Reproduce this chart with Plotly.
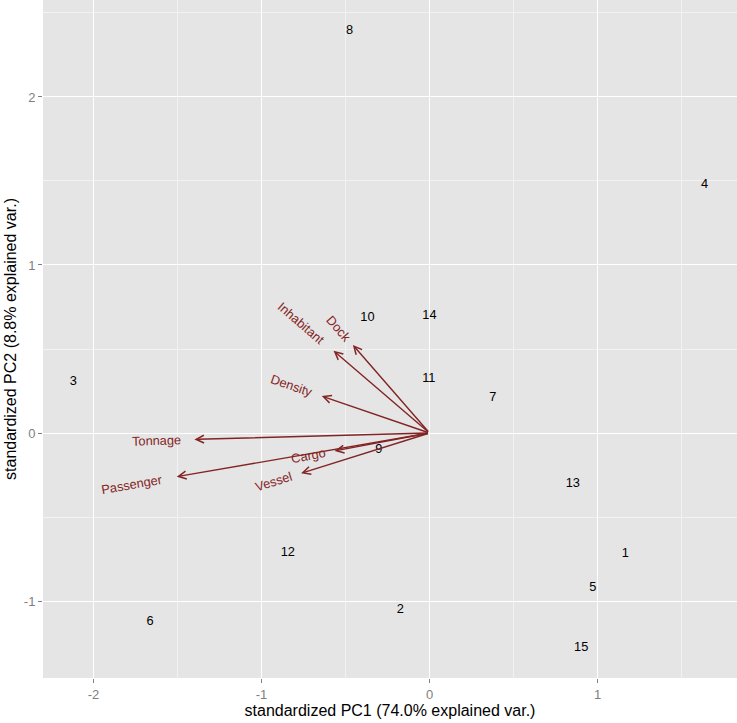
import math
import plotly.graph_objects as go

# ---- data ----
obs_labels = ["1", "2", "3", "4", "5", "6", "7", "8", "9", "10", "11", "12", "13", "14", "15"]
pc1 = [1.165, -0.174, -2.119, 1.637, 0.972, -1.663, 0.377, -0.476, -0.302, -0.369, -0.004, -0.843, 0.853, 0.000, 0.903]
pc2 = [-0.716, -1.050, 0.304, 1.476, -0.921, -1.123, 0.212, 2.393, -0.101, 0.683, 0.320, -0.712, -0.304, 0.696, -1.278]

var_names = ["Dock", "Inhabitant", "Density", "Tonnage", "Cargo", "Passenger", "Vessel"]
var_x = [-0.456, -0.571, -0.641, -1.399, -0.565, -1.504, -0.764]
var_y = [0.524, 0.490, 0.220, -0.038, -0.107, -0.260, -0.240]

x_ticks = [-2, -1, 0, 1]
y_ticks = [-1, 0, 1, 2]
x_title = "standardized PC1 (74.0% explained var.)"
y_title = "standardized PC2 (8.8% explained var.)"

# ---- styling ----
FONT = "Liberation Sans, Arial, Helvetica, sans-serif"
ARROW_COL = "#832424"
LABEL_SIZE = 12.8
W, H = 737, 723
ML, MR, MT, MB = 43, 0, 0, 45
X_RANGE = [-2.30, 1.83]
Y_RANGE = [-1.458, 2.577]

# approximate Arial advance widths (em)
CW = {"T": .611, "o": .556, "n": .556, "a": .556, "g": .556, "e": .556, "P": .667,
      "s": .5, "r": .333, "C": .722, "V": .667, "l": .222, "D": .722, "c": .5,
      "k": .5, "I": .278, "h": .556, "b": .556, "i": .222, "t": .278, "y": .5}


def text_width(s, size):
    return sum(CW.get(ch, .556) for ch in s) * size


fig = go.Figure()

fig.add_trace(go.Scatter(
    x=pc1, y=pc2, mode="text", text=obs_labels,
    textfont=dict(family=FONT, size=LABEL_SIZE, color="#000000"),
    textposition="middle center", hoverinfo="skip", showlegend=False,
))

annotations = []
for name, vx, vy in zip(var_names, var_x, var_y):
    # arrow from origin to loading
    annotations.append(dict(
        x=vx, y=vy, ax=0, ay=0, xref="x", yref="y", axref="x", ayref="y",
        text="", showarrow=True, arrowhead=5, arrowsize=1.1, arrowwidth=1.4,
        arrowcolor=ARROW_COL,
    ))
    # label (ggbiplot style: rotated along arrow, hjust = 1.25)
    ang = math.degrees(math.atan(vy / vx))
    norm = math.hypot(vx, vy)
    ux, uy = vx / norm, vy / norm
    w = text_width(name, LABEL_SIZE)
    d = 0.75 * w
    annotations.append(dict(
        x=vx, y=vy, xref="x", yref="y", text=name, showarrow=False,
        textangle=-ang, xshift=d * ux, yshift=d * uy,
        xanchor="center", yanchor="middle",
        font=dict(family=FONT, size=LABEL_SIZE, color=ARROW_COL),
    ))

fig.update_layout(
    width=W, height=H,
    margin=dict(l=ML, r=MR, t=MT, b=MB, pad=0),
    paper_bgcolor="white", plot_bgcolor="#E5E5E5",
    font=dict(family=FONT),
    annotations=annotations,
    showlegend=False,
)

axis_common = dict(
    showline=False, zeroline=False, showgrid=True, gridcolor="white", gridwidth=1.3,
    ticks="outside", ticklen=4, tickwidth=1, tickcolor="#7F7F7F",
    tickfont=dict(family=FONT, size=13, color="#7F7F7F"),
    automargin=False,
)

fig.update_xaxes(
    range=X_RANGE, tickmode="array", tickvals=x_ticks, ticktext=[str(v) for v in x_ticks],
    minor=dict(tickmode="array", tickvals=[v + 0.5 for v in x_ticks] + [x_ticks[0] - 0.5],
               showgrid=True, gridcolor="#F2F2F2", gridwidth=0.6, ticks=""),
    title=dict(text=x_title, font=dict(family=FONT, size=16, color="#000000"), standoff=3),
    **axis_common,
)
fig.update_yaxes(
    range=Y_RANGE, tickmode="array", tickvals=y_ticks, ticktext=[str(v) for v in y_ticks],
    minor=dict(tickmode="array", tickvals=[v + 0.5 for v in y_ticks] + [y_ticks[0] - 0.5],
               showgrid=True, gridcolor="#F2F2F2", gridwidth=0.6, ticks=""),
    title=dict(text=y_title, font=dict(family=FONT, size=16, color="#000000"), standoff=3),
    **axis_common,
)

fig.write_html(
    "out.html",
    config={"displayModeBar": False},
    post_script="document.body.style.margin='0px';document.body.style.overflow='hidden';",
)
